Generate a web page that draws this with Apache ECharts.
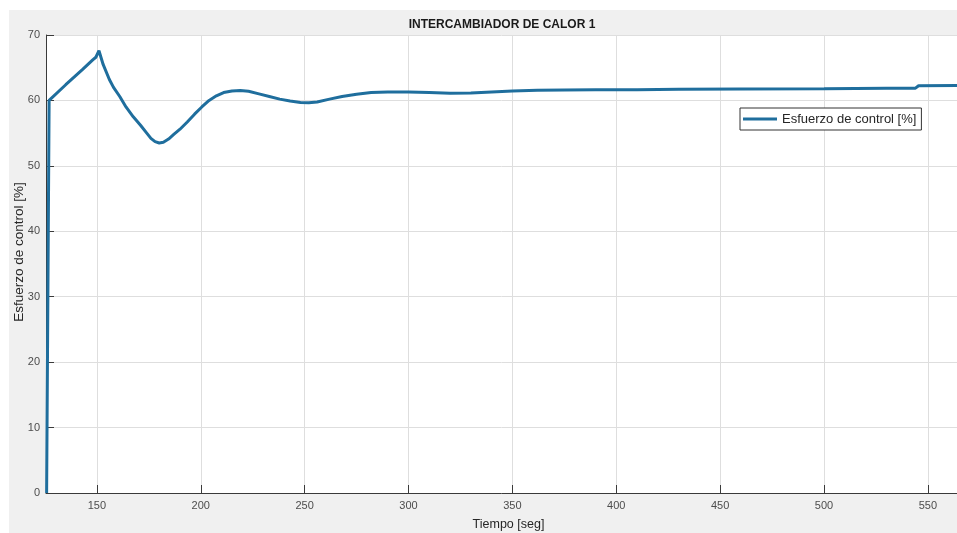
<!DOCTYPE html>
<html>
<head>
<meta charset="utf-8">
<script src="https://cdn.jsdelivr.net/npm/echarts@6/dist/echarts.min.js"></script>
<style>
html,body{margin:0;padding:0;background:#fff;}
#chart{width:957px;height:533px;}
</style>
</head>
<body>
<div id="chart"></div>
<script>
// Data
const timeSeg = [125.8, 127.0, 135, 143, 148, 149.5, 151, 153, 156, 158, 161, 164, 167.5, 171, 174, 176, 178, 180, 182, 184.5, 187, 190, 193.5, 197, 200.5, 204, 207.5, 211, 215, 219, 223, 228, 233, 238, 243, 248, 252, 256, 262, 268, 275, 282, 290, 300, 310, 320, 330, 340, 350, 362, 375, 390, 410, 430, 460, 500, 530, 544, 545.5, 564];
const esfuerzo = [0, 60.0, 62.4, 64.7, 66.2, 66.6, 67.6, 65.5, 63.2, 62.0, 60.6, 59.0, 57.5, 56.2, 55.0, 54.2, 53.7, 53.5, 53.6, 54.1, 54.8, 55.6, 56.7, 57.9, 59.0, 60.0, 60.7, 61.2, 61.45, 61.5, 61.4, 61.0, 60.6, 60.2, 59.9, 59.7, 59.65, 59.75, 60.2, 60.6, 60.95, 61.2, 61.3, 61.3, 61.2, 61.1, 61.15, 61.3, 61.45, 61.55, 61.6, 61.62, 61.65, 61.7, 61.75, 61.8, 61.85, 61.87, 62.25, 62.28];
const seriesName = 'Esfuerzo de control [%]';
const titleText = 'INTERCAMBIADOR DE CALOR 1';
const xName = 'Tiempo [seg]';
const yName = 'Esfuerzo de control [%]';

const FONT = 'Liberation Sans, Arial, sans-serif';
const AXIS_COLOR = '#3a3a3a';
const LABEL_COLOR = '#4d4d4d';
const GRID_COLOR = '#dedede';
const LINE_COLOR = '#1f6e9d';

const chart = echarts.init(document.getElementById('chart'), null, {renderer: 'canvas'});
const option = {
  backgroundColor: '#ffffff',
  animation: false,
  textStyle: {fontFamily: FONT},
  graphic: [{
    type: 'rect', z: -100,
    shape: {x: 9, y: 10, width: 960, height: 530},
    style: {fill: '#f0f0f0'}
  }],
  title: {
    text: titleText,
    left: 502, top: 19, textAlign: 'center', padding: 0,
    textStyle: {fontFamily: FONT, fontSize: 12, fontWeight: 'bold', color: '#1a1a1a'}
  },
  grid: {
    left: 46, right: 0, top: 35, bottom: 40,
    show: true, backgroundColor: '#ffffff', borderWidth: 0,
    containLabel: false,
    outerBoundsMode: 'none'
  },
  legend: {
    data: [{name: seriesName, icon: 'path://M0,0 H34 V3 H0 Z'}],
    left: 740, top: 108,
    padding: [4, 5, 4, 3],
    itemWidth: 34, itemHeight: 3,
    backgroundColor: '#ffffff',
    borderColor: '#333333', borderWidth: 1, borderRadius: 0,
    textStyle: {fontFamily: FONT, fontSize: 13, color: '#262626', lineHeight: 14}
  },
  xAxis: {
    type: 'value',
    min: 125.5, max: 564,
    splitNumber: 9,
    name: xName, nameLocation: 'middle', nameGap: 25, nameMoveOverlap: false,
    nameTextStyle: {fontFamily: FONT, fontSize: 12.5, color: '#262626', padding: [0, 0, 0, 14]},
    axisLine: {show: true, onZero: false, lineStyle: {color: AXIS_COLOR, width: 1}},
    axisTick: {show: true, inside: true, length: 8, lineStyle: {color: AXIS_COLOR}},
    axisLabel: {showMinLabel: false, showMaxLabel: false, margin: 7, fontSize: 11, color: LABEL_COLOR, fontFamily: FONT},
    splitLine: {show: true, lineStyle: {color: GRID_COLOR, width: 1}}
  },
  yAxis: {
    type: 'value',
    min: 0, max: 70, interval: 10,
    name: yName, nameLocation: 'middle', nameGap: 20, nameMoveOverlap: false,
    nameTextStyle: {fontFamily: FONT, fontSize: 13.5, color: '#262626', padding: [0, 0, 0, 24]},
    axisLine: {show: true, lineStyle: {color: AXIS_COLOR, width: 1}},
    axisTick: {show: true, inside: true, length: 8, lineStyle: {color: AXIS_COLOR}},
    axisLabel: {margin: 6, fontSize: 11, color: LABEL_COLOR, fontFamily: FONT},
    splitLine: {show: true, lineStyle: {color: GRID_COLOR, width: 1}}
  },
  series: [{
    name: seriesName,
    type: 'line',
    data: timeSeg.map((t, i) => [t, esfuerzo[i]]),
    showSymbol: false,
    symbol: 'none',
    smooth: false,
    lineStyle: {color: LINE_COLOR, width: 3},
    itemStyle: {color: LINE_COLOR}
  }]
};
chart.setOption(option);
</script>
</body>
</html>
